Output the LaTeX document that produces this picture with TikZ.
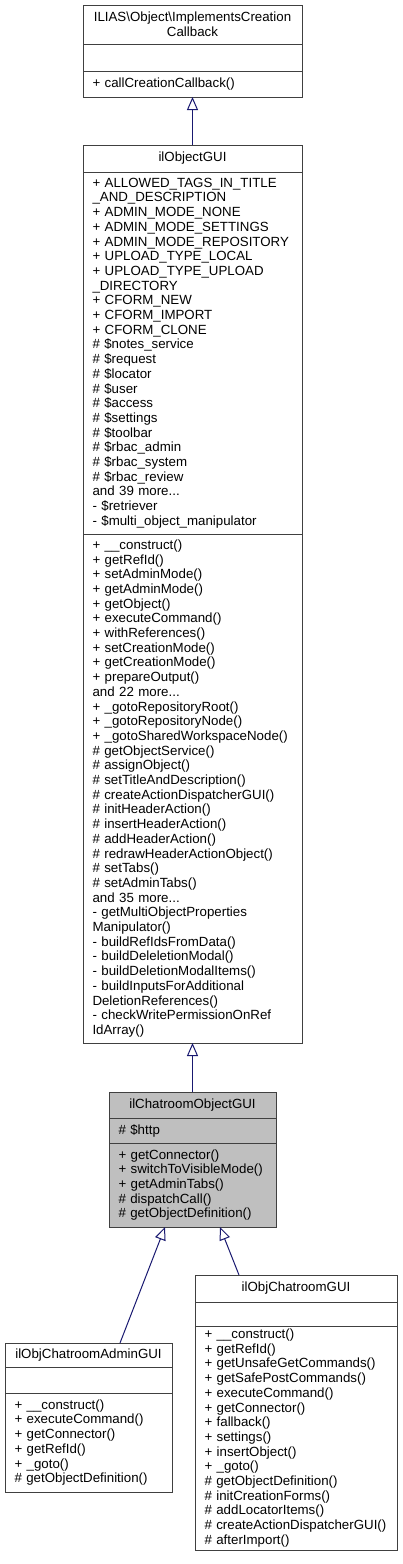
\documentclass[tikz,border=0pt]{standalone}
\usepackage{fontspec}
\setmainfont{Liberation Sans}
\usepackage{tikz}
\usetikzlibrary{arrows.meta}

\definecolor{edgeblue}{HTML}{191970}

\begin{document}
\begin{tikzpicture}[
  x=1pt,y=-1pt,
  >={Triangle[open,length=13pt,width=11pt]},
  font=\fontsize{13.3}{14.7}\selectfont,
  cpart/.style={draw=black!75,line width=1pt,rectangle,anchor=north,
                inner xsep=9.5pt,inner ysep=1pt,outer sep=0pt},
  ctitle/.style={cpart,align=center},
  cbody/.style={cpart,align=left},
  hl/.style={fill=black!25},
  inh/.style={->,draw=edgeblue,line width=1pt}]

\useasboundingbox (0,0) rectangle (403,1564);

% --- interface at the top ---
\node[ctitle,text width=200pt,minimum width=219pt,minimum height=39pt] (cb) at (192.5,5)
  {ILIAS\textbackslash Object\textbackslash ImplementsCreation\\Callback};
\node[cbody,text width=200pt,minimum width=219pt,minimum height=27pt] (cb-attr) at (cb.south) {};
\node[cbody,text width=200pt,minimum width=219pt,minimum height=26pt] (cb-ops) at (cb-attr.south)
  {+ callCreationCallback()};

% --- ilObjectGUI ---
\node[ctitle,text width=200pt,minimum width=219pt,minimum height=27pt] (og) at (192.5,145)
  {ilObjectGUI};
\node[cbody,text width=200pt,minimum width=219pt,minimum height=362pt] (og-attr) at (og.south)
  {+ ALLOWED\_TAGS\_IN\_TITLE\\
   \_AND\_DESCRIPTION\\
   + ADMIN\_MODE\_NONE\\
   + ADMIN\_MODE\_SETTINGS\\
   + ADMIN\_MODE\_REPOSITORY\\
   + UPLOAD\_TYPE\_LOCAL\\
   + UPLOAD\_TYPE\_UPLOAD\\
   \_DIRECTORY\\
   + CFORM\_NEW\\
   + CFORM\_IMPORT\\
   + CFORM\_CLONE\\
   \# \$notes\_service\\
   \# \$request\\
   \# \$locator\\
   \# \$user\\
   \# \$access\\
   \# \$settings\\
   \# \$toolbar\\
   \# \$rbac\_admin\\
   \# \$rbac\_system\\
   \# \$rbac\_review\\
   and 39 more...\\
   - \$retriever\\
   - \$multi\_object\_manipulator};
\node[cbody,text width=200pt,minimum width=219pt,minimum height=509pt] (og-ops) at (og-attr.south)
  {+ \_\_construct()\\
   + getRefId()\\
   + setAdminMode()\\
   + getAdminMode()\\
   + getObject()\\
   + executeCommand()\\
   + withReferences()\\
   + setCreationMode()\\
   + getCreationMode()\\
   + prepareOutput()\\
   and 22 more...\\
   + \_gotoRepositoryRoot()\\
   + \_gotoRepositoryNode()\\
   + \_gotoSharedWorkspaceNode()\\
   \# getObjectService()\\
   \# assignObject()\\
   \# setTitleAndDescription()\\
   \# createActionDispatcherGUI()\\
   \# initHeaderAction()\\
   \# insertHeaderAction()\\
   \# addHeaderAction()\\
   \# redrawHeaderActionObject()\\
   \# setTabs()\\
   \# setAdminTabs()\\
   and 35 more...\\
   - getMultiObjectProperties\\
   Manipulator()\\
   - buildRefIdsFromData()\\
   - buildDeleletionModal()\\
   - buildDeletionModalItems()\\
   - buildInputsForAdditional\\
   DeletionReferences()\\
   - checkWritePermissionOnRef\\
   IdArray()};

% --- ilChatroomObjectGUI (highlighted) ---
\node[ctitle,hl,text width=148pt,minimum width=167pt,minimum height=26pt] (co) at (192.5,1092)
  {ilChatroomObjectGUI};
\node[cbody,hl,text width=148pt,minimum width=167pt,minimum height=25pt] (co-attr) at (co.south)
  {\# \$http};
\node[cbody,hl,text width=148pt,minimum width=167pt,minimum height=84pt] (co-ops) at (co-attr.south)
  {+ getConnector()\\
   + switchToVisibleMode()\\
   + getAdminTabs()\\
   \# dispatchCall()\\
   \# getObjectDefinition()};

% --- ilObjChatroomAdminGUI ---
\node[ctitle,text width=148pt,minimum width=167pt,minimum height=24pt] (adm) at (88.5,1343)
  {ilObjChatroomAdminGUI};
\node[cbody,text width=148pt,minimum width=167pt,minimum height=26pt] (adm-attr) at (adm.south) {};
\node[cbody,text width=148pt,minimum width=167pt,minimum height=99pt] (adm-ops) at (adm-attr.south)
  {+ \_\_construct()\\
   + executeCommand()\\
   + getConnector()\\
   + getRefId()\\
   + \_goto()\\
   \# getObjectDefinition()};

% --- ilObjChatroomGUI ---
\node[ctitle,text width=183pt,minimum width=202pt,minimum height=27pt] (ch) at (296,1275)
  {ilObjChatroomGUI};
\node[cbody,text width=183pt,minimum width=202pt,minimum height=24pt] (ch-attr) at (ch.south) {};
\node[cbody,text width=183pt,minimum width=202pt,minimum height=224pt] (ch-ops) at (ch-attr.south)
  {+ \_\_construct()\\
   + getRefId()\\
   + getUnsafeGetCommands()\\
   + getSafePostCommands()\\
   + executeCommand()\\
   + getConnector()\\
   + fallback()\\
   + settings()\\
   + insertObject()\\
   + \_goto()\\
   \# getObjectDefinition()\\
   \# initCreationForms()\\
   \# addLocatorItems()\\
   \# createActionDispatcherGUI()\\
   \# afterImport()};

% --- inheritance ---
\draw[inh] (og.north) -- (cb-ops.south);
\draw[inh] (co.north) -- (og-ops.south);
\draw[inh] ([xshift=31.5pt]adm.north) -- ([xshift=-27.5pt]co-ops.south);
\draw[inh] ([xshift=-57pt]ch.north) -- ([xshift=27.5pt]co-ops.south);

\end{tikzpicture}
\end{document}
